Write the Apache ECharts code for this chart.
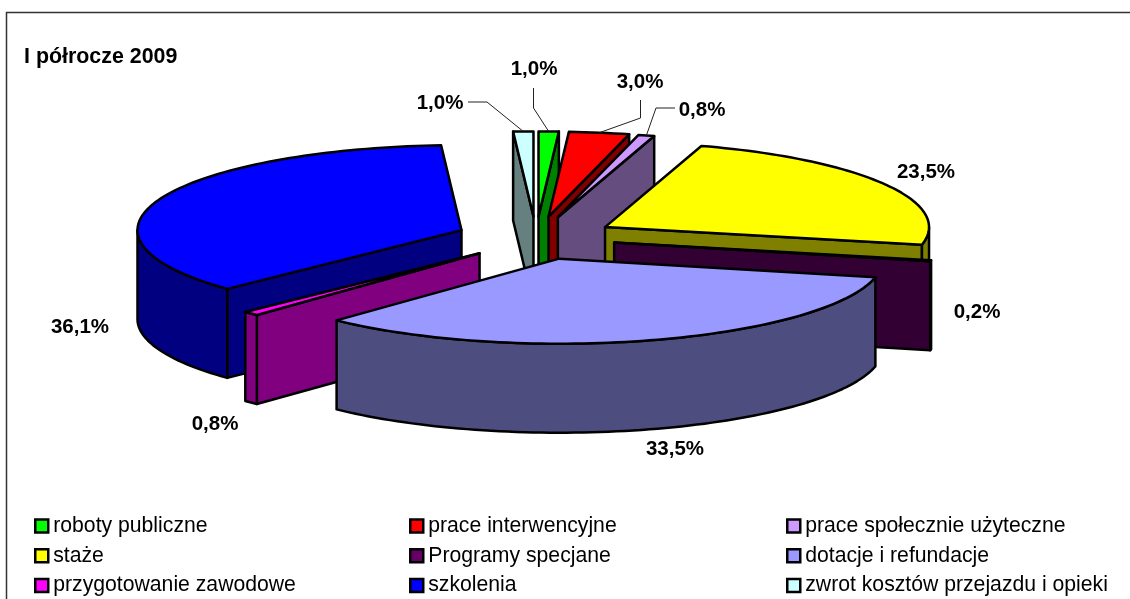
<!DOCTYPE html>
<html>
<head>
<meta charset="utf-8">
<style>html,body{margin:0;padding:0;background:#fff}#c{width:1130px;height:599px}</style>
<script src="https://cdn.jsdelivr.net/npm/echarts@6/dist/echarts.min.js"></script>
</head>
<body>
<div id="c"></div>
<script>
// ---- data ----
const categories = ['roboty publiczne','prace interwencyjne','prace społecznie użyteczne','staże','Programy specjane','dotacje i refundacje','przygotowanie zawodowe','szkolenia','zwrot kosztów przejazdu i opieki'];
const shares = [1.0, 3.0, 0.8, 23.5, 0.2, 33.5, 0.8, 36.1, 1.0];
const shareLabels = ['1,0%','3,0%','0,8%','23,5%','0,2%','33,5%','0,8%','36,1%','1,0%'];
const titleText = 'I półrocze 2009';

// ---- styles ----
const topColors  = ['#00ff00','#ff0000','#cc99ff','#ffff00','#660066','#9999ff','#ff00ff','#0000ff','#ccffff'];
const sideColors = ['#008000','#800000','#664d80','#808000','#330033','#4d4d80','#800080','#000080','#668080'];

// ---- layout of the projected pie ----
const CX = 536, CY = 238, RX = 324, RY = 85, DEPTH = 89, EXPLODE = 80, TILT = 0.27;
const labelPos = [[534,69],[640,82],[702,110],[926,172],[977,312],[675,449],[215,424],[80,327],[440,103]];
const leaderElbows = [[[533.5,88],[533.5,108]],[[640.5,100],[640.5,118]],[[675,108],[656,108]],null,null,null,null,null,[[468,102],[487,102]]];
const drawOrder = [0,8,1,2,3,7,4,6,5];

const total = shares.reduce((a,b)=>a+b,0);
const rad = d => d*Math.PI/180;
function sliceGeom(i){
  let before = 0;
  for (let k=0;k<i;k++) before += shares[k];
  const a0 = before/total*360, a1 = (before+shares[i])/total*360, mid=(a0+a1)/2;
  return {a0,a1,mid,ax:CX+EXPLODE*Math.sin(rad(mid)),ay:CY-EXPLODE*TILT*Math.cos(rad(mid))};
}
function rim(g,a,dz){return [g.ax+RX*Math.sin(rad(a)), g.ay-RY*Math.cos(rad(a))+(dz||0)];}
function arcPts(g,from,to,dz){
  const pts=[], n=Math.max(2,Math.ceil((to-from)/1.5));
  for(let k=0;k<=n;k++) pts.push(rim(g,from+(to-from)*k/n,dz));
  return pts;
}
const edge = {stroke:'#000',lineWidth:2.5,lineJoin:'round'};
function poly(points,fill,z2){return {type:'polygon',z2:z2,shape:{points},style:Object.assign({fill},edge)};}

function renderSlice(i){
  return function(params,api){
    const g = sliceGeom(i), children=[], side=sideColors[i];
    const apex=[g.ax,g.ay], apexB=[g.ax,g.ay+DEPTH];
    const wall=(a)=>{const p=rim(g,a),q=rim(g,a,DEPTH);children.push(poly([apex,p,q,apexB],side));};
    if(Math.sin(rad(g.a0))<0) wall(g.a0);
    if(Math.sin(rad(g.a1))>0) wall(g.a1);
    const f0=Math.max(g.a0,90), f1=Math.min(g.a1,270);
    if(f1>f0){
      children.push(poly(arcPts(g,f0,f1,0).concat(arcPts(g,f0,f1,DEPTH).reverse()),side));
    }
    children.push(poly([apex].concat(arcPts(g,g.a0,g.a1,0)),topColors[i]));
    const el=leaderElbows[i];
    if(el){
      const end=rim(g,g.mid);
      children.push({type:'polyline',z2:90,shape:{points:el.concat([end])},style:{stroke:'#222',lineWidth:1,fill:null}});
    }
    children.push({type:'text',z2:100,style:{x:labelPos[i][0],y:labelPos[i][1],text:shareLabels[i],align:'center',verticalAlign:'middle',fill:'#000',
      fontFamily:'Liberation Sans',fontWeight:'bold',fontSize:20.5}});
    return {type:'group',children};
  };
}

const series = drawOrder.map(i=>({
  type:'custom',name:categories[i],coordinateSystem:'none',silent:true,animation:false,
  itemStyle:{color:topColors[i]},
  renderItem:renderSlice(i),data:[[shares[i]]]
}));

const legendCol=(idx,left)=>({
  orient:'vertical',left,top:515.5,height:120,padding:0,icon:'rect',itemWidth:13,itemHeight:13,itemGap:8.8,selectedMode:false,
  data:[categories[idx],categories[idx+3],categories[idx+6]],
  itemStyle:{borderColor:'#000',borderWidth:2.5},
  textStyle:{fontFamily:'Liberation Sans',fontSize:21.2,color:'#000',lineHeight:12}
});

const chart=echarts.init(document.getElementById('c'),null,{renderer:'canvas'});
chart.setOption({
  animation:false,backgroundColor:'#fff',
  title:{text:titleText,left:19,top:42,textStyle:{fontFamily:'Liberation Sans',fontWeight:'bold',fontSize:21.4,color:'#000'}},
  legend:[legendCol(0,34),legendCol(1,409),legendCol(2,786)],
  graphic:[{type:'polyline',shape:{points:[[6.5,610],[6.5,12.5],[1140,12.5]]},style:{stroke:'#333',lineWidth:1.5,fill:null}}],
  series
});
</script>
</body>
</html>
